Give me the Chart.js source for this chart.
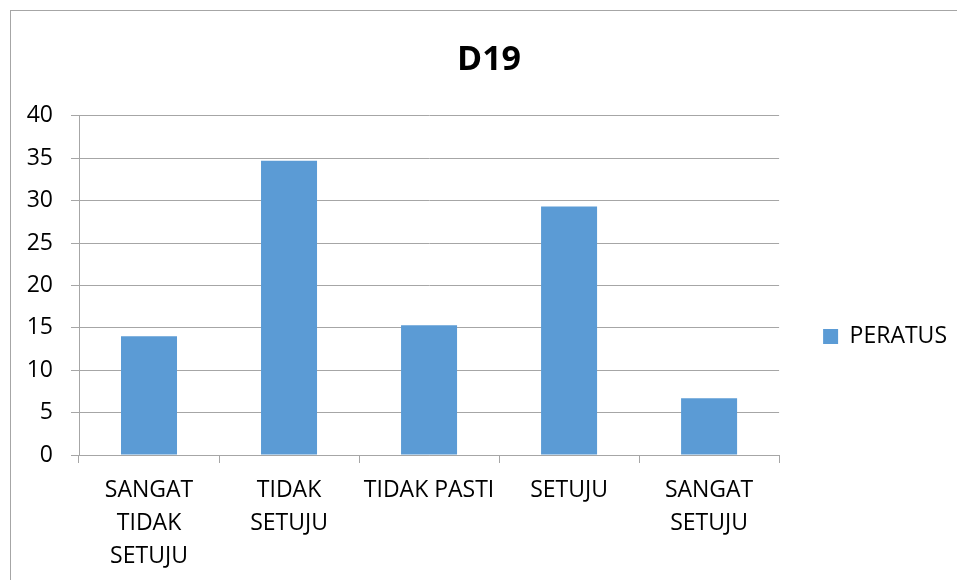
<!DOCTYPE html>
<html>
<head>
<meta charset="utf-8">
<title>D19</title>
<script src="https://cdn.jsdelivr.net/npm/chart.js@4/dist/chart.umd.min.js"></script>
<style>
    body { margin: 0; background: #fff; overflow: hidden; }
    #frame {
        position: absolute;
        left: 10px;
        top: 10px;
        width: 960px;
        height: 600px;
        border-left: 1px solid #a6a6a6;
        border-top: 1px solid #a6a6a6;
    }
</style>
</head>
<body>
<div id="frame">
    <canvas id="myChart" width="946" height="569"></canvas>
</div>
<script>
const categories = [
    ['SANGAT', 'TIDAK', 'SETUJU'],
    ['TIDAK', 'SETUJU'],
    'TIDAK PASTI',
    'SETUJU',
    ['SANGAT', 'SETUJU']
]
const peratus = [14.0, 34.7, 15.3, 29.3, 6.7]
const yTicks = [0, 5, 10, 15, 20, 25, 30, 35, 40]

const gridGrey = '#a6a6a6'
const font = 'Open Sans'

let ctx = document.getElementById('myChart').getContext('2d');
let myChart = new Chart(ctx, {
    type: 'bar',
    data: {
        labels: categories,
        datasets: [{
            label: 'PERATUS',
            data: peratus,
            backgroundColor: '#5b9bd5',
            borderWidth: 0,
            barPercentage: 0.4,
            categoryPercentage: 1
        }]
    },
    options: {
        responsive: false,
        animation: false,
        devicePixelRatio: 1,
        layout: {
            padding: { left: 10 }
        },
        plugins: {
            title: {
                display: true,
                text: 'D19',
                color: '#000',
                font: { family: font, size: 34, weight: 'bold', lineHeight: 1.2 },
                padding: { top: 29, bottom: 35 }
            },
            legend: {
                position: 'right',
                maxWidth: 178,
                title: {
                    display: true,
                    text: ' ',
                    font: { size: 10, lineHeight: 1 },
                    padding: { top: 0, bottom: 72 }
                },
                labels: {
                    color: '#000',
                    boxWidth: 15,
                    boxHeight: 15,
                    padding: 44,
                    font: { family: font, size: 23 }
                }
            },
            tooltip: { enabled: false }
        },
        scales: {
            x: {
                grid: {
                    drawOnChartArea: false,
                    drawTicks: true,
                    tickLength: 8,
                    color: gridGrey
                },
                border: { color: gridGrey },
                ticks: {
                    color: '#000',
                    padding: 11,
                    maxRotation: 0,
                    autoSkip: false,
                    font: { family: font, size: 23, lineHeight: 1.43 }
                },
                afterFit: function (scale) {
                    scale.height = 125
                }
            },
            y: {
                min: 0,
                max: 40,
                afterBuildTicks: function (scale) {
                    scale.ticks = yTicks.map(v => ({ value: v }))
                },
                grid: {
                    color: gridGrey,
                    tickLength: 8
                },
                border: { color: gridGrey },
                ticks: {
                    color: '#000',
                    padding: 18,
                    font: { family: font, size: 23 }
                },
                afterFit: function (scale) {
                    scale.width = 58
                }
            }
        }
    }
});
</script>
</body>
</html>
